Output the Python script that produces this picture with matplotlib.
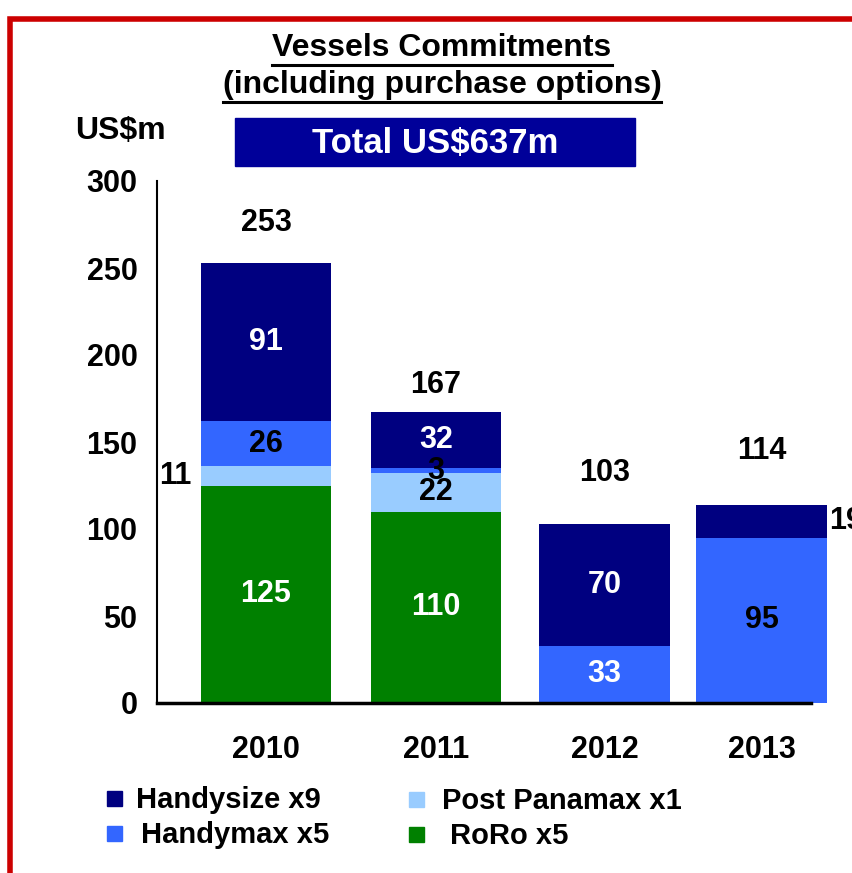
import matplotlib
matplotlib.use('Agg')
import matplotlib.pyplot as plt
from matplotlib.patches import Rectangle
from matplotlib.lines import Line2D

plt.rcParams['font.family'] = ['Liberation Sans', 'DejaVu Sans']
plt.rcParams['font.weight'] = 'bold'

YEARS = ['2010', '2011', '2012', '2013']
RORO = [125, 110, 0, 0]
POST_PANAMAX = [11, 22, 0, 0]
HANDYMAX = [26, 3, 33, 95]
HANDYSIZE = [91, 32, 70, 19]
TOTALS = [253, 167, 103, 114]
Y_TICKS = [0, 50, 100, 150, 200, 250, 300]

SERIES = [
    ('RoRo x5', RORO, '#008000', 'white'),
    ('Post Panamax x1', POST_PANAMAX, '#99CCFF', 'black'),
    ('Handymax x5', HANDYMAX, '#3366FF', 'black'),
    ('Handysize x9', HANDYSIZE, '#000080', 'white'),
]
# per-label colour overrides (series, bar) -> colour
LABEL_COLOR = {(2, 2): 'white'}
# labels placed beside the bar: (series, bar) -> x offset in bar units
SIDE_LABEL = {(1, 0): -0.55, (3, 3): 0.51}
TOTAL_PAD = [23, 16, 29, 31]

W, H = 853, 873
fig = plt.figure(figsize=(W / 100, H / 100), dpi=100)
ax = fig.add_axes([157 / W, 1 - 703 / H, 654 / W, 522 / H])

x = [0, 1.03, 2.05, 3.0]
width = 0.79
bottom = [0] * len(YEARS)
for si, (name, vals, color, tcolor) in enumerate(SERIES):
    ax.bar(x, vals, width, bottom=bottom, color=color, linewidth=0,
           clip_on=False, zorder=2)
    for i, v in enumerate(vals):
        if v == 0:
            continue
        yc = bottom[i] + v / 2
        if (si, i) in SIDE_LABEL:
            ax.text(x[i] + SIDE_LABEL[(si, i)], yc, str(v), ha='center',
                    va='center', fontsize=22, color='black', clip_on=False)
        else:
            ax.text(x[i], yc, str(v), ha='center', va='center', fontsize=22,
                    color=LABEL_COLOR.get((si, i), tcolor), zorder=3)
    bottom = [b + v for b, v in zip(bottom, vals)]

for i, t in enumerate(TOTALS):
    ax.text(x[i], t + TOTAL_PAD[i], str(t), ha='center', va='center',
            fontsize=22, color='black')

ax.set_xlim(-0.66, 3.30)
ax.set_ylim(0, 300)
ax.set_yticks(Y_TICKS)
ax.set_yticklabels([str(v) for v in Y_TICKS], fontsize=22)
ax.set_xticks(x)
ax.set_xticklabels(YEARS, fontsize=22)
ax.tick_params(axis='both', length=0)
ax.tick_params(axis='y', pad=14)
ax.tick_params(axis='x', pad=23)
for s in ['top', 'right']:
    ax.spines[s].set_visible(False)
ax.spines['left'].set_linewidth(1.5)
ax.spines['bottom'].set_linewidth(2.5)
ax.patch.set_alpha(0)

# red frame
fig.add_artist(Line2D([10 / W, 10 / W, 1], [0, 1 - 19 / H, 1 - 19 / H],
                      color='#CC0000', lw=4, solid_joinstyle='miter',
                      transform=fig.transFigure))

# title with underline
fig.canvas.draw()
renderer = fig.canvas.get_renderer()
for txt, yc in [('Vessels Commitments', 48), ('(including purchase options)', 85)]:
    t = fig.text(442 / W, 1 - yc / H, txt, ha='center', va='center', fontsize=23)
    bb = t.get_window_extent(renderer)
    yline = 1 - (yc + 17) / H
    fig.add_artist(Line2D([bb.x0 / W, bb.x1 / W], [yline, yline], color='black',
                          lw=2.2, transform=fig.transFigure))

fig.text(120 / W, 1 - 131 / H, 'US$m', ha='center', va='center', fontsize=23)
fig.patches.append(Rectangle((235 / W, 1 - 166 / H), 400 / W, 48 / H,
                             color='#000099', transform=fig.transFigure))
fig.text(435 / W, 1 - 143 / H, 'Total US$637m', ha='center', va='center',
         fontsize=25, color='white')

# legend
legend_items = [
    ('Handysize x9', '#000080', 107, 798, 136),
    ('Handymax x5', '#3366FF', 107, 833, 141),
    ('Post Panamax x1', '#99CCFF', 409, 799, 442),
    ('RoRo x5', '#008000', 409, 834, 450),
]
for label, color, sx, sy, tx in legend_items:
    fig.patches.append(Rectangle((sx / W, 1 - (sy + 8) / H), 15 / W, 15 / H,
                                 color=color, transform=fig.transFigure))
    fig.text(tx / W, 1 - (sy + 2) / H, label, ha='left', va='center', fontsize=21)

fig.savefig('out.png', dpi=100)
